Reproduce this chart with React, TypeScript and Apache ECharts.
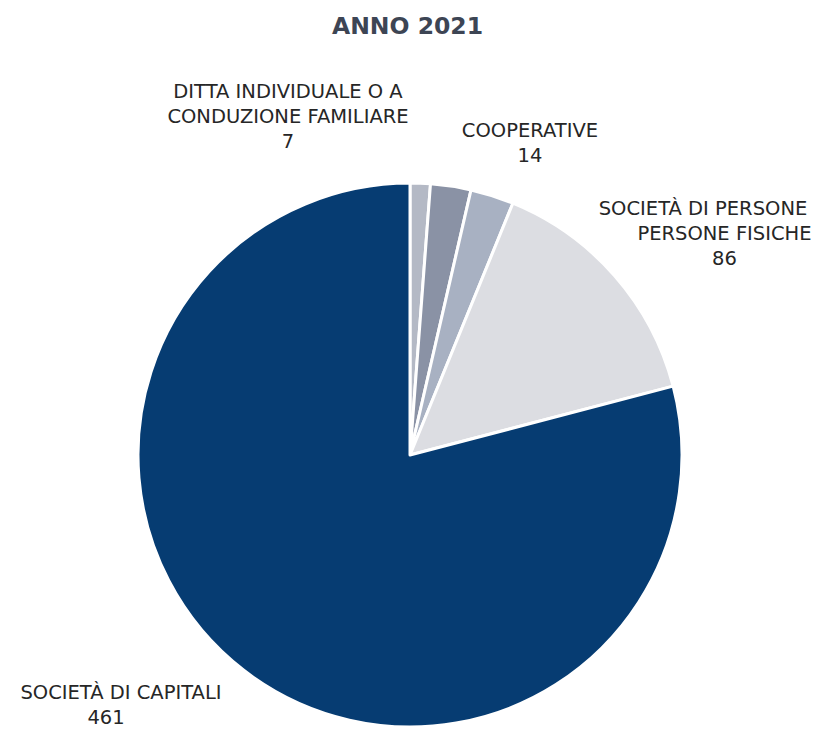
import React, { useEffect, useRef } from "react";
import * as echarts from "echarts";

const categories = [
  "DITTA INDIVIDUALE O A CONDUZIONE FAMILIARE",
  "COOPERATIVE",
  "PERSONE FISICHE",
  "SOCIETÀ DI PERSONE",
  "SOCIETÀ DI CAPITALI",
];
const values = [7, 14, 15, 86, 461];
const colors = ["#b4b9c5", "#8a92a5", "#a8b1c2", "#dcdde2", "#063c72"];

const labelText = [
  "DITTA INDIVIDUALE O A\nCONDUZIONE FAMILIARE\n7",
  "COOPERATIVE\n14",
  "",
  "SOCIETÀ DI PERSONE\n{sh|PERSONE FISICHE}\n{sh|86}",
  "SOCIETÀ DI CAPITALI\n{sl|461}",
];
const labelPos = [
  [288, 116],
  [530, 143],
  [0, 0],
  [703, 233],
  [121, 705],
];

export default function App() {
  const ref = useRef<HTMLDivElement>(null);
  useEffect(() => {
    if (!ref.current) return;
    const chart = echarts.init(ref.current, undefined, { renderer: "svg" });
    const font = "DejaVu Sans";
    const fs = 19.5;
    chart.setOption({
      animation: false,
      backgroundColor: "#ffffff",
      title: {
        text: "ANNO 2021",
        left: "center",
        top: 9,
        textStyle: { fontFamily: font, fontSize: 23.5, fontWeight: "bold", color: "#3d4554" },
      },
      series: [
        {
          type: "pie",
          center: [410, 455],
          radius: 272,
          startAngle: 90,
          clockwise: true,
          itemStyle: { borderColor: "#ffffff", borderWidth: 3 },
          labelLine: { show: false },
          label: {
            show: true,
            position: "outside",
            overflow: "none",
            fontFamily: font,
            fontSize: fs,
            lineHeight: 25,
            color: "#262626",
            align: "center",
            formatter: (p: any) => labelText[p.dataIndex],
            rich: {
              sh: { fontFamily: font, fontSize: fs, lineHeight: 25, color: "#262626", padding: [0, 0, 0, 43] },
              sl: { fontFamily: font, fontSize: fs, lineHeight: 25, color: "#262626", padding: [0, 30, 0, 0] },
            },
          },
          labelLayout: (p: any) => ({
            x: labelPos[p.dataIndex][0],
            y: labelPos[p.dataIndex][1],
            align: "center",
            verticalAlign: "middle",
          }),
          data: categories.map((c, i) => ({
            name: c,
            value: values[i],
            itemStyle: { color: colors[i] },
            label: { show: labelText[i] !== "" },
          })),
        },
      ],
    });
    return () => chart.dispose();
  }, []);
  return (
    <div
      ref={ref}
      style={{ position: "fixed", left: 0, top: 0, width: 815, height: 731, background: "#fff" }}
    />
  );
}
